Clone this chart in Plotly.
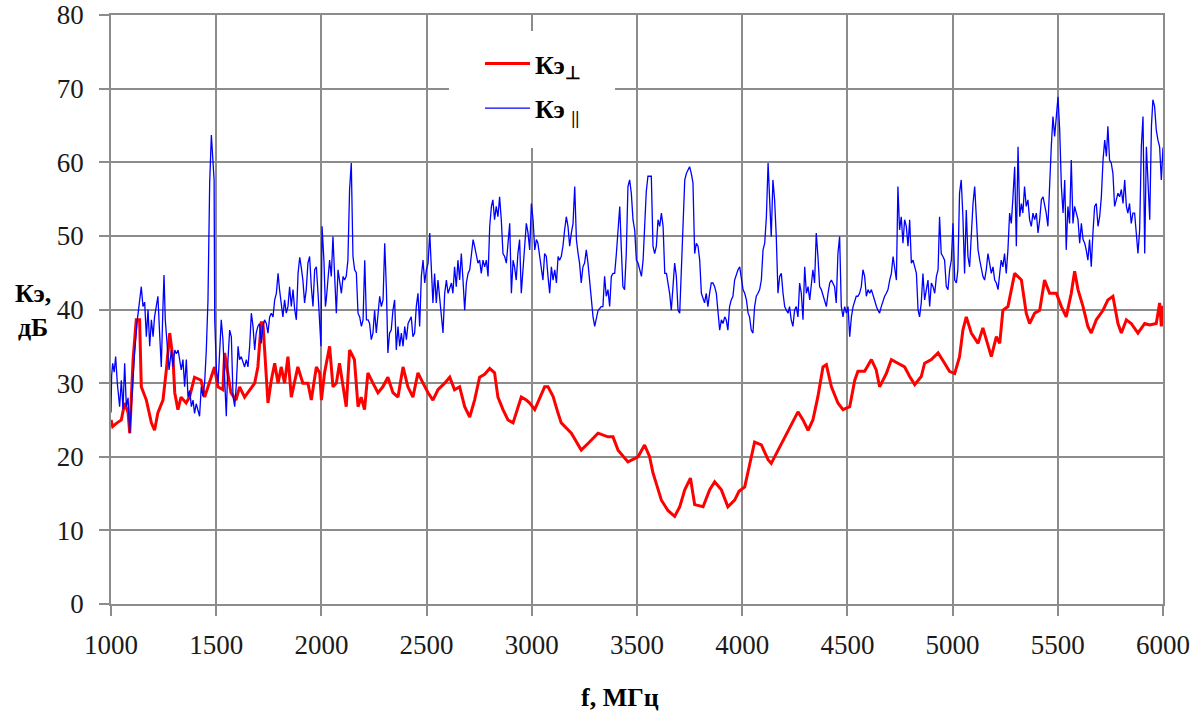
import plotly.graph_objects as go

# ---- data ----
f_perp = [1000, 1008, 1024, 1049, 1065, 1081, 1089, 1105, 1120, 1136, 1144, 1168, 1192, 1207, 1223,
          1247, 1263, 1279, 1295, 1303, 1318, 1333, 1357, 1373, 1397, 1428, 1445, 1460, 1492, 1508,
          1532, 1540, 1570, 1594, 1611, 1635, 1683, 1698, 1714, 1722, 1730, 1738, 1746, 1762, 1778,
          1794, 1809, 1825, 1841, 1857, 1873, 1888, 1912, 1936, 1952, 1976, 1992, 2000, 2015, 2039,
          2055, 2071, 2086, 2102, 2118, 2134, 2157, 2174, 2189, 2205, 2221, 2245, 2269, 2292, 2316,
          2340, 2364, 2388, 2411, 2435, 2459, 2483, 2507, 2530, 2554, 2586, 2610, 2633, 2657, 2681,
          2705, 2728, 2752, 2776, 2800, 2823, 2839, 2863, 2887, 2911, 2934, 2950, 2974, 2990, 3014,
          3045, 3061, 3077, 3101, 3125, 3140, 3188, 3235, 3267, 3315, 3362, 3386, 3410, 3457, 3505,
          3536, 3560, 3576, 3616, 3647, 3679, 3703, 3727, 3754, 3774, 3814, 3845, 3869, 3901, 3932,
          3964, 3985, 4012, 4035, 4059, 4091, 4123, 4138, 4170, 4202, 4233, 4265, 4289, 4313, 4336,
          4360, 4384, 4400, 4424, 4455, 4479, 4511, 4535, 4550, 4582, 4614, 4637, 4653, 4685, 4709,
          4740, 4772, 4796, 4820, 4851, 4867, 4899, 4931, 4962, 4985, 5010, 5033, 5049, 5065, 5089,
          5121, 5144, 5168, 5184, 5208, 5224, 5239, 5263, 5295, 5327, 5350, 5366, 5390, 5414, 5437,
          5461, 5493, 5517, 5540, 5564, 5580, 5596, 5620, 5643, 5659, 5683, 5715, 5738, 5762, 5786,
          5802, 5826, 5849, 5881, 5913, 5937, 5968, 5984, 5992, 6000]
k_perp = [25.0, 24.1, 24.5, 25.0, 27.3, 26.0, 23.2, 33.2, 38.6, 38.6, 29.5, 27.7, 24.6, 23.6, 26.0,
          27.7, 31.8, 36.8, 33.2, 28.7, 26.4, 28.1, 27.3, 28.1, 30.8, 30.4, 28.1, 29.5, 32.2, 29.5,
          29.1, 34.1, 28.7, 27.7, 29.5, 28.1, 30.0, 32.2, 38.2, 38.2, 34.9, 31.6, 27.3, 30.4, 32.7,
          30.0, 32.2, 30.0, 33.6, 28.1, 30.4, 32.2, 30.0, 30.0, 27.7, 32.2, 31.4, 27.7, 31.4, 35.0,
          29.5, 30.0, 32.7, 29.5, 26.8, 34.5, 33.2, 26.8, 28.1, 26.4, 31.4, 30.0, 28.7, 29.5, 30.8,
          28.7, 28.1, 32.2, 29.5, 28.1, 31.4, 30.0, 28.7, 27.7, 29.1, 30.0, 30.8, 29.1, 29.5, 26.8,
          25.4, 27.7, 30.8, 31.2, 32.0, 31.4, 28.1, 26.4, 25.0, 24.6, 26.8, 28.1, 27.7, 27.3, 26.4,
          28.6, 29.5, 29.5, 28.2, 25.9, 24.6, 23.2, 20.9, 21.8, 23.2, 22.7, 22.7, 20.9, 19.3, 20.0,
          21.6, 20.0, 17.8, 14.1, 12.7, 11.9, 13.2, 15.5, 17.1, 13.5, 13.2, 15.5, 16.6, 15.5, 13.2,
          14.1, 15.3, 15.9, 18.7, 22.0, 21.6, 19.6, 19.1, 20.9, 22.7, 24.5, 26.1, 25.0, 23.6, 25.0,
          28.2, 32.2, 32.5, 29.5, 27.3, 26.4, 26.8, 30.4, 31.6, 31.6, 33.2, 31.8, 29.5, 31.3, 33.2,
          32.7, 32.2, 30.9, 29.8, 30.9, 32.7, 33.2, 34.1, 32.7, 31.6, 31.3, 33.6, 37.2, 39.0, 36.8,
          35.4, 37.5, 35.0, 33.6, 36.3, 35.4, 39.9, 40.4, 44.9, 44.0, 39.5, 38.1, 39.5, 39.9, 44.0,
          42.2, 42.2, 40.4, 39.0, 42.2, 45.2, 42.7, 40.4, 37.7, 36.8, 38.6, 39.9, 41.3, 41.8, 38.1,
          36.8, 38.6, 38.1, 36.8, 38.1, 37.9, 38.1, 40.9, 37.7, 40.5]

f_par = [1000, 1003, 1008, 1015, 1022, 1030, 1041, 1049, 1057, 1065, 1073, 1081, 1089, 1097, 1105,
         1112, 1125, 1136, 1144, 1152, 1160, 1168, 1176, 1184, 1192, 1200, 1207, 1215, 1223, 1231,
         1239, 1247, 1252, 1258, 1268, 1276, 1287, 1295, 1303, 1311, 1319, 1327, 1334, 1342, 1350,
         1358, 1366, 1374, 1382, 1390, 1397, 1405, 1413, 1421, 1429, 1437, 1445, 1453, 1461, 1469,
         1477, 1485, 1490, 1493, 1501, 1509, 1516, 1524, 1532, 1540, 1548, 1556, 1564, 1572, 1580,
         1588, 1596, 1604, 1611, 1619, 1627, 1635, 1643, 1651, 1659, 1667, 1675, 1683, 1690, 1698,
         1706, 1714, 1722, 1730, 1738, 1746, 1754, 1762, 1770, 1778, 1786, 1794, 1801, 1809, 1817,
         1825, 1833, 1841, 1849, 1857, 1865, 1873, 1881, 1889, 1897, 1904, 1912, 1920, 1928, 1936,
         1944, 1952, 1960, 1968, 1976, 1984, 1992, 1998, 2003, 2012, 2019, 2023, 2031, 2039, 2047,
         2055, 2063, 2071, 2079, 2087, 2095, 2103, 2110, 2118, 2126, 2134, 2142, 2150, 2158, 2166,
         2174, 2182, 2190, 2198, 2206, 2214, 2222, 2229, 2237, 2245, 2253, 2261, 2269, 2277, 2285,
         2293, 2301, 2309, 2316, 2324, 2332, 2340, 2348, 2356, 2364, 2372, 2380, 2388, 2396, 2404,
         2412, 2420, 2427, 2435, 2443, 2451, 2459, 2467, 2475, 2483, 2491, 2499, 2507, 2515, 2522,
         2530, 2538, 2546, 2554, 2562, 2570, 2578, 2586, 2594, 2602, 2610, 2618, 2625, 2633, 2641,
         2649, 2657, 2665, 2673, 2681, 2689, 2697, 2705, 2713, 2721, 2728, 2736, 2744, 2752, 2760,
         2768, 2776, 2784, 2792, 2800, 2808, 2815, 2823, 2831, 2839, 2847, 2855, 2863, 2871, 2879,
         2887, 2895, 2903, 2911, 2918, 2926, 2934, 2942, 2950, 2958, 2966, 2974, 2982, 2990, 2998,
         3006, 3014, 3022, 3029, 3037, 3045, 3053, 3061, 3069, 3077, 3085, 3093, 3101, 3109, 3117,
         3125, 3132, 3140, 3148, 3156, 3164, 3172, 3180, 3188, 3196, 3204, 3212, 3220, 3227, 3235,
         3243, 3251, 3259, 3267, 3275, 3283, 3291, 3299, 3307, 3315, 3322, 3330, 3338, 3346, 3354,
         3362, 3370, 3378, 3386, 3394, 3402, 3410, 3418, 3425, 3433, 3441, 3449, 3457, 3465, 3473,
         3481, 3489, 3497, 3505, 3513, 3521, 3529, 3537, 3544, 3552, 3560, 3568, 3576, 3584, 3592,
         3600, 3608, 3616, 3624, 3632, 3640, 3647, 3655, 3663, 3671, 3679, 3687, 3695, 3703, 3711,
         3719, 3727, 3735, 3742, 3750, 3758, 3766, 3774, 3782, 3790, 3798, 3806, 3814, 3821, 3829,
         3837, 3845, 3853, 3861, 3869, 3877, 3885, 3893, 3901, 3909, 3917, 3924, 3932, 3940, 3948,
         3956, 3964, 3972, 3980, 3988, 4004, 4012, 4020, 4028, 4035, 4043, 4051, 4059, 4067, 4075,
         4083, 4091, 4099, 4107, 4115, 4123, 4130, 4138, 4146, 4154, 4162, 4170, 4178, 4186, 4194,
         4202, 4210, 4218, 4225, 4233, 4241, 4249, 4257, 4265, 4273, 4281, 4289, 4297, 4305, 4313,
         4321, 4328, 4336, 4344, 4352, 4360, 4368, 4376, 4384, 4392, 4400, 4408, 4416, 4424, 4431,
         4439, 4447, 4455, 4463, 4471, 4479, 4487, 4495, 4503, 4511, 4519, 4527, 4535, 4542, 4550,
         4558, 4566, 4574, 4582, 4590, 4598, 4606, 4614, 4622, 4630, 4638, 4645, 4653, 4661, 4669,
         4677, 4685, 4693, 4701, 4709, 4717, 4725, 4733, 4740, 4748, 4756, 4764, 4772, 4780, 4788,
         4796, 4804, 4812, 4820, 4828, 4836, 4843, 4851, 4859, 4867, 4875, 4883, 4891, 4899, 4907,
         4915, 4923, 4931, 4938, 4946, 4954, 4962, 4970, 4978, 4986, 4994, 5002, 5010, 5018, 5025,
         5033, 5041, 5049, 5057, 5065, 5073, 5081, 5089, 5097, 5105, 5113, 5121, 5129, 5136, 5144,
         5152, 5160, 5168, 5176, 5184, 5192, 5200, 5208, 5216, 5224, 5231, 5239, 5247, 5255, 5263,
         5271, 5279, 5287, 5295, 5303, 5311, 5319, 5327, 5334, 5342, 5350, 5358, 5366, 5374, 5382,
         5390, 5398, 5406, 5414, 5422, 5430, 5437, 5445, 5453, 5461, 5469, 5477, 5485, 5493, 5501,
         5509, 5517, 5525, 5533, 5540, 5548, 5556, 5564, 5572, 5580, 5588, 5596, 5604, 5612, 5620,
         5628, 5635, 5643, 5651, 5659, 5667, 5675, 5683, 5691, 5699, 5707, 5715, 5723, 5731, 5738,
         5746, 5754, 5762, 5770, 5778, 5786, 5794, 5802, 5810, 5818, 5826, 5833, 5841, 5849, 5857,
         5865, 5873, 5881, 5889, 5897, 5905, 5913, 5921, 5929, 5937, 5945, 5952, 5960, 5968, 5976,
         5984, 5992, 6000]
k_par = [26.0, 31.0, 32.7, 31.5, 33.6, 30.0, 26.8, 30.4, 26.5, 32.7, 26.8, 28.0, 23.2, 27.0, 29.5,
         34.0, 38.6, 41.8, 43.1, 40.4, 41.0, 36.3, 40.0, 35.0, 38.6, 36.3, 39.0, 40.4, 41.8, 36.8,
         32.2, 40.4, 44.7, 38.6, 34.0, 31.8, 34.5, 32.2, 34.5, 34.0, 34.5, 32.7, 31.8, 33.2, 29.5,
         33.2, 28.1, 29.0, 26.8, 27.7, 25.9, 27.2, 26.3, 25.5, 29.5, 28.2, 30.0, 34.5, 41.3, 57.2,
         63.7, 59.4, 57.6, 38.6, 31.8, 30.0, 34.0, 38.6, 35.9, 29.5, 25.5, 33.2, 37.2, 36.3, 28.2,
         26.8, 30.0, 35.0, 33.2, 33.6, 32.7, 32.2, 33.2, 32.2, 35.0, 39.5, 37.7, 34.5, 36.8, 37.7,
         38.1, 35.4, 37.7, 38.6, 38.1, 36.8, 39.0, 39.5, 39.0, 41.3, 42.2, 44.9, 42.7, 40.4, 39.0,
         41.3, 39.5, 40.4, 43.1, 40.4, 42.7, 40.0, 38.6, 44.9, 47.1, 45.8, 44.0, 40.9, 42.7, 46.3,
         47.2, 43.1, 40.4, 45.4, 45.8, 42.2, 37.7, 35.0, 51.3, 46.7, 40.4, 41.3, 44.0, 46.7, 44.5,
         49.9, 44.5, 39.5, 45.4, 44.0, 42.2, 44.5, 44.0, 44.5, 46.7, 56.3, 59.9, 47.2, 45.4, 45.0,
         39.5, 39.0, 37.7, 38.6, 46.7, 38.6, 38.6, 38.1, 35.9, 36.8, 39.9, 36.8, 39.5, 41.8, 40.4,
         41.3, 49.0, 42.7, 34.1, 36.8, 37.2, 39.9, 41.3, 34.5, 37.7, 35.0, 36.8, 35.0, 37.7, 35.9,
         38.1, 38.6, 39.0, 36.3, 36.8, 40.4, 42.2, 37.7, 44.5, 46.7, 43.6, 45.4, 46.3, 50.4, 44.9,
         40.9, 44.9, 40.9, 44.0, 41.8, 38.6, 36.8, 42.2, 44.0, 42.2, 43.1, 43.6, 42.2, 45.8, 43.1,
         46.7, 44.0, 47.6, 44.0, 39.9, 43.6, 44.9, 45.4, 47.2, 49.5, 48.6, 47.6, 46.3, 46.7, 44.9,
         46.7, 45.8, 46.7, 44.5, 51.3, 54.0, 54.9, 52.2, 54.0, 52.6, 55.3, 52.2, 47.6, 47.2, 46.3,
         48.6, 51.7, 42.2, 46.7, 45.8, 44.0, 47.6, 49.5, 42.2, 45.4, 49.9, 51.7, 50.4, 48.1, 54.4,
         52.2, 48.1, 49.5, 49.0, 47.2, 45.8, 44.0, 47.6, 47.2, 44.5, 42.2, 45.8, 44.0, 45.4, 43.6,
         47.2, 46.7, 47.2, 48.6, 50.8, 52.6, 51.3, 48.6, 50.4, 51.7, 56.7, 49.5, 47.6, 46.3, 43.6,
         45.8, 46.3, 48.1, 46.3, 43.6, 40.9, 39.0, 37.7, 38.6, 39.9, 40.1, 40.4, 40.4, 44.5, 41.8,
         42.7, 40.4, 44.5, 44.9, 44.9, 47.6, 51.7, 54.0, 48.6, 43.1, 42.7, 47.6, 56.7, 57.6, 55.8,
         52.2, 50.8, 46.7, 46.3, 45.4, 44.5, 46.7, 52.2, 56.0, 58.1, 58.1, 58.1, 48.6, 47.6, 48.6,
         52.2, 51.3, 53.1, 51.3, 44.9, 44.9, 43.6, 42.2, 39.9, 43.6, 46.3, 44.5, 39.9, 39.5, 44.9,
         49.9, 57.6, 58.5, 59.0, 59.4, 58.5, 57.2, 47.6, 49.0, 48.6, 46.7, 42.2, 41.3, 40.9, 42.2,
         40.4, 42.2, 43.6, 43.6, 43.1, 42.2, 39.5, 37.2, 38.6, 38.1, 39.0, 38.6, 37.2, 40.4, 41.3,
         41.8, 44.0, 44.9, 45.4, 45.8, 42.7, 42.2, 41.3, 39.5, 39.0, 37.2, 36.8, 40.4, 41.8, 42.2,
         42.7, 44.0, 48.1, 49.0, 52.6, 59.9, 55.3, 49.9, 57.6, 54.9, 49.9, 42.2, 44.5, 44.9, 42.2,
         40.4, 39.9, 39.5, 40.4, 38.6, 37.7, 39.9, 40.4, 39.0, 43.6, 42.2, 38.6, 45.8, 42.2, 43.1,
         41.3, 43.1, 45.4, 43.6, 50.4, 47.2, 43.1, 42.7, 41.8, 41.3, 40.4, 42.2, 43.6, 44.0, 43.6,
         43.1, 40.9, 47.6, 49.9, 40.4, 39.0, 40.4, 39.5, 40.4, 36.3, 39.0, 40.4, 41.3, 41.8, 41.8,
         42.2, 43.1, 45.4, 44.5, 41.8, 42.7, 42.2, 42.7, 41.8, 41.3, 40.4, 39.9, 39.5, 40.4, 41.3,
         41.8, 42.2, 42.7, 44.0, 44.9, 47.2, 45.8, 44.0, 56.7, 50.8, 52.6, 49.0, 52.2, 51.3, 48.6,
         52.2, 46.3, 46.7, 45.8, 44.9, 39.9, 39.0, 40.9, 44.9, 41.3, 42.7, 44.0, 40.4, 43.6, 43.1,
         42.2, 44.5, 45.4, 52.6, 47.6, 47.2, 46.7, 43.1, 42.7, 45.4, 46.7, 51.7, 44.0, 43.6, 45.4,
         55.8, 57.6, 52.6, 44.9, 53.5, 47.2, 45.8, 50.4, 54.4, 56.7, 52.2, 48.1, 46.7, 45.8, 44.5,
         44.0, 45.4, 47.6, 46.3, 44.9, 45.8, 44.0, 43.6, 42.7, 44.9, 46.7, 45.8, 47.6, 44.9, 48.1,
         53.1, 51.7, 55.3, 59.4, 48.6, 62.1, 52.6, 54.4, 53.1, 56.7, 54.0, 54.9, 52.2, 51.3, 53.1,
         52.2, 53.1, 50.4, 52.2, 54.9, 55.3, 54.4, 53.1, 51.3, 57.6, 62.1, 66.2, 63.5, 66.2, 68.9,
         64.4, 56.7, 53.1, 57.6, 48.1, 54.0, 51.7, 60.3, 51.7, 54.0, 53.1, 52.2, 49.0, 51.7, 49.5,
         49.0, 48.1, 46.7, 49.5, 45.8, 50.4, 54.0, 54.4, 51.3, 52.6, 55.3, 60.3, 63.0, 60.8, 64.9,
         60.3, 59.9, 58.5, 54.0, 54.9, 55.8, 55.3, 56.3, 54.4, 57.6, 54.0, 53.1, 54.4, 51.7, 53.1,
         53.1, 50.4, 47.6, 50.8, 62.1, 66.2, 47.6, 62.1, 55.8, 52.2, 64.9, 68.5, 67.6, 64.4, 63.0,
         62.1, 57.6, 62.0]

x_ticks = [1000, 1500, 2000, 2500, 3000, 3500, 4000, 4500, 5000, 5500, 6000]
y_ticks = [0, 10, 20, 30, 40, 50, 60, 70, 80]

name_perp = "Кэ<sub>⊥</sub>"
name_par = "Кэ <sub>||</sub>"

SERIF = "Liberation Serif, Times New Roman, serif"
GRID = "#8c8c8c"
W, H = 1195, 717
L, R, T, B = 111, 32, 15, 113
PW, PH = W - L - R, H - T - B


def px(xp):
    return (xp - L) / PW


def py(yp):
    return (H - B - yp) / PH


fig = go.Figure()
fig.add_trace(go.Scatter(x=f_perp, y=k_perp, mode="lines", name=name_perp,
                         legendgroup="a", line=dict(color="#ff0000", width=3)))
fig.add_trace(go.Scatter(x=f_par, y=k_par, mode="lines", name=name_par,
                         legendgroup="b", line=dict(color="#0000ff", width=1.3)))

fig.update_layout(
    width=W, height=H,
    margin=dict(l=L, r=R, t=T, b=B, autoexpand=False),
    paper_bgcolor="white", plot_bgcolor="white",
    font=dict(family=SERIF, size=27, color="#1a1a1a"),
    showlegend=True,
    legend=dict(x=px(480), y=py(40), xanchor="left", yanchor="top",
                bgcolor="white", borderwidth=0, itemwidth=45,
                font=dict(family=SERIF, size=26, color="black", weight="bold"),
                tracegroupgap=8),
    shapes=[dict(type="rect", xref="paper", yref="paper",
                 x0=px(449), x1=px(615), y0=py(148), y1=py(31),
                 fillcolor="white", line=dict(width=0), layer="above")],
    annotations=[
        dict(text="<b>Кэ,<br>дБ</b>", xref="paper", yref="paper",
             x=px(33), y=py(310), xanchor="center", yanchor="middle",
             showarrow=False, align="center", font=dict(family=SERIF, size=26, color="black")),
        dict(text="<b>f, МГц</b>", xref="paper", yref="paper",
             x=px(620), y=py(697), xanchor="center", yanchor="middle",
             showarrow=False, font=dict(family=SERIF, size=26, color="black")),
    ],
)

fig.update_xaxes(range=[1000, 6000], tickvals=x_ticks, ticktext=[str(v) for v in x_ticks],
                 automargin=False, ticklabeloverflow="allow",
                 showgrid=True, gridcolor=GRID, gridwidth=1.5,
                 showline=True, linecolor=GRID, linewidth=1.5, mirror=True,
                 ticks="outside", ticklen=10, tickwidth=1.5, tickcolor=GRID,
                 zeroline=False, ticklabelstandoff=6)
fig.update_yaxes(range=[0, 80], tickvals=y_ticks, ticktext=[str(v) for v in y_ticks],
                 automargin=False, ticklabeloverflow="allow",
                 showgrid=True, gridcolor=GRID, gridwidth=1.5,
                 showline=True, linecolor=GRID, linewidth=1.5, mirror=True,
                 ticks="outside", ticklen=10, tickwidth=1.5, tickcolor=GRID,
                 zeroline=False, ticklabelstandoff=10)

# remove the browser's default 8px page margin so the figure fills the window exactly
fig.write_html("out.html",
               config={"displayModeBar": False},
               post_script="document.body.style.margin='0';document.body.style.overflow='hidden';")
